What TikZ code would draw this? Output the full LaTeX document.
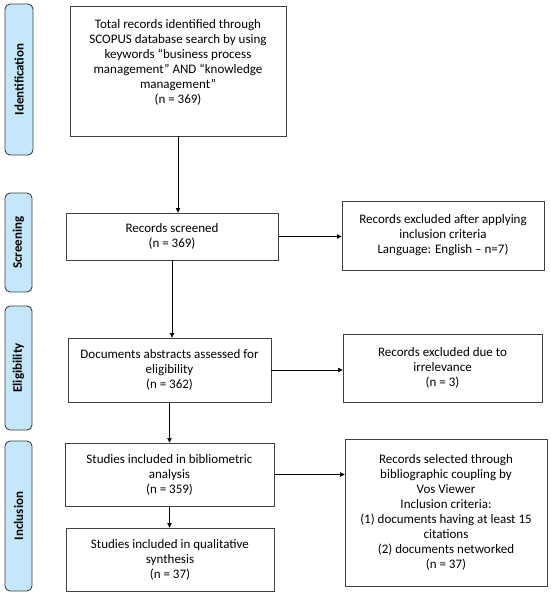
\documentclass[tikz,border=0pt]{standalone}
\usepackage{fontspec}
\setmainfont{Carlito}
\usetikzlibrary{arrows.meta}
\definecolor{stagefill}{RGB}{196,232,250}
\definecolor{edgegray}{RGB}{64,64,64}
\begin{document}
\begin{tikzpicture}[x=1pt,y=-1pt,
  box/.style={draw=edgegray,line width=0.9pt,rectangle,inner sep=0pt,
    font=\fontsize{13}{15}\selectfont,align=center},
  txt/.style={inner sep=0pt,font=\fontsize{13}{15}\selectfont,align=center},
  stage/.style={draw=edgegray,line width=0.9pt,fill=stagefill,rounded corners=5pt,
    rectangle,inner sep=0pt,rotate=90,font=\fontsize{13}{15}\selectfont\bfseries},
  arr/.style={draw=black,line width=0.7pt,-{Triangle[width=4.5pt,length=4.5pt]}}]
\useasboundingbox (0,0) rectangle (550,594);
% stage labels
\node[stage,minimum width=151,minimum height=28] (sid) at (19,79.5) {Identification};
\node[stage,minimum width=99,minimum height=27] (ssc) at (18.5,242.5) {Screening};
\node[stage,minimum width=124,minimum height=27] (sel) at (18.5,368) {Eligibility};
\node[stage,minimum width=150,minimum height=27] (sin) at (18.5,516) {Inclusion};
% boxes
\node[box,minimum width=216,minimum height=130] (b1) at (178,71) {};
\node[txt] (t1) at (178,62) {Total records identified through\\SCOPUS database search by using\\keywords “business process\\management” AND “knowledge\\management”\\(n = 369)};
\node[box,minimum width=212,minimum height=47] (b2) at (172,236.5) {Records screened\\(n = 369)};
\node[box,minimum width=202,minimum height=69] (b3) at (443,235.5) {Records excluded after applying\\inclusion criteria\\Language: English – n=7)};
\node[box,minimum width=203,minimum height=64] (b4) at (169.5,370) {Documents abstracts assessed for\\eligibility\\(n = 362)};
\node[box,minimum width=199,minimum height=68] (b5) at (442.5,368) {Records excluded due to\\irrelevance\\(n = 3)};
\node[box,minimum width=209,minimum height=63] (b6) at (169.5,474.5) {Studies included in bibliometric\\analysis\\(n = 359)};
\node[box,minimum width=202,minimum height=147] (b7) at (446,512.5) {Records selected through\\bibliographic coupling by\\Vos Viewer\\Inclusion criteria:\\(1) documents having at least 15\\citations\\(2) documents networked\\(n = 37)};
\node[box,minimum width=208,minimum height=63] (b8) at (170,559.5) {Studies included in qualitative\\synthesis\\(n = 37)};
% arrows
\draw[arr] (b1.south) -- (b1.south |- b2.north);
\draw[arr] (b2.south) -- (b2.south |- b4.north);
\draw[arr] (b4.south) -- (b4.south |- b6.north);
\draw[arr] (b6.south) -- (b6.south |- b8.north);
\draw[arr] (b2.east) -- (b2.east -| b3.west);
\draw[arr] (b4.east) -- (b4.east -| b5.west);
\draw[arr] (b6.east) -- (b6.east -| b7.west);
\end{tikzpicture}
\end{document}
